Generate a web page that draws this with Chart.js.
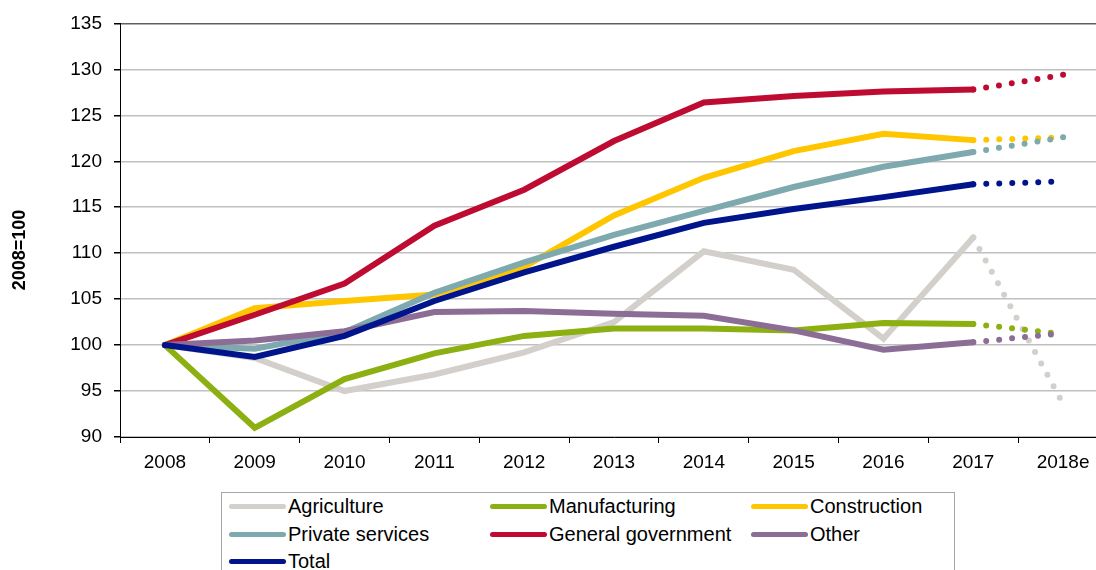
<!DOCTYPE html>
<html>
<head>
<meta charset="utf-8">
<script src="https://cdn.jsdelivr.net/npm/chart.js@4/dist/chart.umd.min.js"></script>
<style>
    html, body { margin: 0; padding: 0; overflow: hidden; background: #fff; }
    body { width: 1096px; height: 570px; position: relative; font-family: "Liberation Sans", Arial, sans-serif; }
    #wrap { position: absolute; left: 0; top: 0; width: 1108px; height: 490px; }
    #legend {
        position: absolute; left: 221px; top: 492px; width: 734px; height: 100px;
        border: 1px solid #a6a6a6; box-sizing: border-box;
    }
    .item { position: absolute; height: 28px; line-height: 28px; font-size: 20px; color: #000; white-space: nowrap; }
    .item span.swatch {
        display: inline-block; width: 57px; height: 5px; border-radius: 3px;
        vertical-align: middle; margin-right: 2px; position: relative; top: -1px;
    }
</style>
</head>
<body>
<div id="wrap"><canvas id="chart" width="1108" height="490"></canvas></div>
<div id="legend"></div>
<script>
const years = ['2008', '2009', '2010', '2011', '2012', '2013', '2014', '2015', '2016', '2017', '2018e'];

const agriculture   = [100, 98.6, 95.0, 96.8, 99.2, 102.5, 110.2, 108.2, 100.7, 111.7, 93.6];
const manufacturing = [100, 91.0, 96.3, 99.1, 101.0, 101.8, 101.8, 101.6, 102.4, 102.3, 101.2];
const construction  = [100, 104.0, 104.8, 105.5, 108.5, 114.1, 118.2, 121.1, 123.0, 122.3, 122.6];
const privServices  = [100, 99.6, 101.4, 105.7, 109.0, 112.0, 114.6, 117.2, 119.4, 121.0, 122.6];
const generalGov    = [100, 103.3, 106.7, 113.0, 116.9, 122.2, 126.4, 127.1, 127.6, 127.8, 129.4];
const other         = [100, 100.5, 101.5, 103.6, 103.7, 103.4, 103.2, 101.6, 99.5, 100.3, 101.3];
const total         = [100, 98.7, 101.0, 104.8, 107.9, 110.7, 113.3, 114.8, 116.1, 117.5, 117.8];

const yTicks = [90, 95, 100, 105, 110, 115, 120, 125, 130, 135];

const series = [
    { label: 'Agriculture', data: agriculture, color: '#d3cfca' },
    { label: 'Manufacturing', data: manufacturing, color: '#8cb011' },
    { label: 'Construction', data: construction, color: '#ffc600' },
    { label: 'Private services', data: privServices, color: '#7ea9ae' },
    { label: 'General government', data: generalGov, color: '#be0b31' },
    { label: 'Other', data: other, color: '#8c6d96' },
    { label: 'Total', data: total, color: '#00148c' }
];

Chart.defaults.font.family = '"Liberation Sans", Arial, sans-serif';
Chart.defaults.color = '#000';

// last segment (2017 -> 2018e) is an estimate, drawn dotted
const lastIdx = years.length - 2;

const datasets = series.map((s, i) => ({
    label: s.label,
    data: s.data,
    borderColor: s.color,
    backgroundColor: s.color,
    borderWidth: 6,
    borderCapStyle: 'round',
    pointRadius: 0,
    pointHoverRadius: 0,
    tension: 0,
    fill: false,
    order: series.length - i,
    segment: {
        borderDash: ctx => ctx.p0DataIndex === lastIdx ? [0, 13] : undefined
    }
}));

const yTitle = {
    id: 'yTitle',
    afterDraw(chart) {
        const c = chart.ctx;
        c.save();
        c.translate(20, 250);
        c.rotate(-Math.PI / 2);
        c.font = 'bold 18px "Liberation Sans", Arial, sans-serif';
        c.fillStyle = '#000';
        c.textAlign = 'center';
        c.textBaseline = 'middle';
        c.fillText('2008=100', 0, 0);
        c.restore();
    }
};

new Chart(document.getElementById('chart'), {
    type: 'line',
    data: { labels: years, datasets: datasets },
    options: {
        responsive: false,
        animation: false,
        layout: { padding: { top: 21, right: 0, bottom: 0, left: 0 } },
        plugins: { legend: { display: false }, tooltip: { enabled: false } },
        scales: {
            x: {
                offset: true,
                grid: { drawOnChartArea: false, tickColor: '#000', tickLength: 6, offset: true },
                border: { color: '#000', width: 1 },
                ticks: { font: { size: 19 }, padding: 8, maxRotation: 0, autoSkip: false },
                afterFit(scale) { scale.height = 53; }
            },
            y: {
                min: 90,
                max: 135,
                afterBuildTicks(scale) { scale.ticks = yTicks.map(v => ({ value: v })); },
                grid: {
                    color: ctx => ctx.tick && ctx.tick.value === 135 ? '#606060' : '#c0c0c0',
                    lineWidth: 1.5,
                    tickColor: '#000',
                    tickLength: 6
                },
                border: { color: '#000', width: 1 },
                ticks: { font: { size: 19 }, padding: 12 },
                afterFit(scale) { scale.width = 120; }
            }
        }
    },
    plugins: [yTitle]
});

// legend, three columns
const legend = document.getElementById('legend');
series.forEach((s, i) => {
    const el = document.createElement('div');
    el.className = 'item';
    el.style.left = (7 + (i % 3) * 261) + 'px';
    el.style.top = (-1 + Math.floor(i / 3) * 27.5) + 'px';
    const sw = document.createElement('span');
    sw.className = 'swatch';
    sw.style.background = s.color;
    el.appendChild(sw);
    el.appendChild(document.createTextNode(s.label));
    legend.appendChild(el);
});
</script>
</body>
</html>
